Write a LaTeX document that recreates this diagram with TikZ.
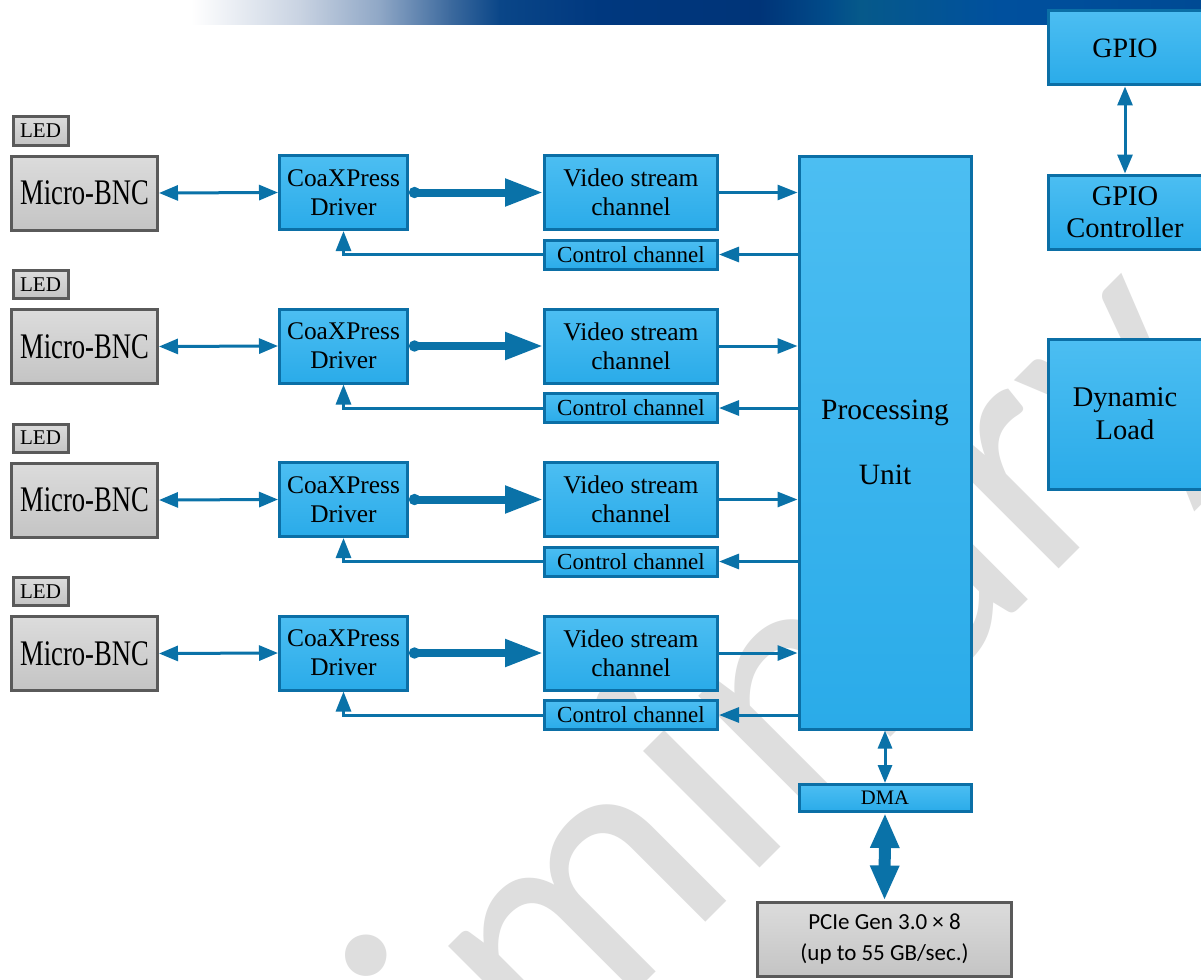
\documentclass[tikz,border=0pt]{standalone}
\usepackage{fontspec}
\usepackage{graphicx}
\setmainfont{Liberation Serif}
\newfontfamily\calib{Carlito}
\usetikzlibrary{arrows.meta}
\definecolor{bdr}{HTML}{0B6FA6}
\definecolor{blueT}{HTML}{4CBEF2}
\definecolor{blueB}{HTML}{2AABE9}
\definecolor{grayT}{HTML}{DCDCDC}
\definecolor{grayB}{HTML}{C4C4C4}
\definecolor{grayD}{HTML}{5A5A5A}
\definecolor{arr}{HTML}{0A72A8}
\definecolor{wm}{HTML}{DEDEDE}
\definecolor{g1}{HTML}{C9D3E2}
\definecolor{g2}{HTML}{8FA7C6}
\definecolor{g3}{HTML}{3D6A9E}
\definecolor{g4}{HTML}{0A4688}
\definecolor{g5}{HTML}{00387F}
\definecolor{g6}{HTML}{003478}
\definecolor{g7}{HTML}{014C8A}
\definecolor{g8}{HTML}{06598A}
\definecolor{g9}{HTML}{00509E}
\definecolor{g10}{HTML}{004A94}
\begin{document}
\begin{tikzpicture}[x=1pt,y=-1pt,
  bbox/.style={draw=bdr,line width=3pt,top color=blueT,bottom color=blueB,inner sep=0pt,align=center,text=black},
  gbox/.style={draw=grayD,line width=3pt,top color=grayT,bottom color=grayB,inner sep=0pt,align=center,text=black},
  sz/.style 2 args={minimum width=#1pt,minimum height=#2pt},
  f/.style 2 args={font=\fontsize{#1}{#2}\selectfont},
  ar/.style={draw=arr,line width=3pt},
  a1/.style={ar,-{Triangle[length=20pt,width=15pt]}},
  a2/.style={ar,{Triangle[length=19pt,width=15pt]}-{Triangle[length=19pt,width=15pt]}},
  fat/.style={draw=arr,line width=8pt,{Circle[length=11pt,width=11pt]}-{Triangle[length=38pt,width=26pt]}},
  huge/.style={draw=arr,line width=12pt,{Triangle[length=35pt,width=27pt]}-{Triangle[length=35pt,width=27pt]}}
]
\clip (0,0) rectangle (1201,979);
\fill[white] (0,0) rectangle (1201,979);
% watermark
\node[rotate=45,anchor=base west,inner sep=0pt,text=wm,font={\calib\fontsize{345}{345}\selectfont}] (wmark) at (106,1522) {Preliminary};
% top bar
\shade[left color=white,right color=g1] (191,0) rectangle (300,25);
\shade[left color=g1,right color=g2] (299.5,0) rectangle (380,25);
\shade[left color=g2,right color=g3] (379.5,0) rectangle (450,25);
\shade[left color=g3,right color=g4] (449.5,0) rectangle (500,25);
\shade[left color=g4,right color=g5] (499.5,0) rectangle (600,25);
\shade[left color=g5,right color=g6] (599.5,0) rectangle (760,25);
\shade[left color=g6,right color=g7] (759.5,0) rectangle (830,25);
\shade[left color=g7,right color=g8] (829.5,0) rectangle (860,25);
\shade[left color=g8,right color=g9] (859.5,0) rectangle (1000,25);
\shade[left color=g9,right color=g10] (999.5,0) rectangle (1201,25);
% right column
\node[bbox,sz={154}{74},f={28}{32}] (gpio) at (1125,48) {GPIO};
\node[bbox,sz={154}{74},f={28.5}{32}] (gpioc) at (1125,212) {GPIO\\Controller};
\node[bbox,sz={154}{150},f={28.5}{33}] (dyn) at (1125,414) {Dynamic\\Load};
\draw[a2] (gpio.south) -- (gpioc.north);
% processing unit
\node[bbox,sz={172}{573},f={29.5}{65}] (pu) at (885,442.5) {Processing\\Unit};
\node[bbox,sz={172}{27},f={20.6}{22}] (dma) at (885,798) {DMA};
\node[gbox,sz={254}{74},font={\calib\fontsize{23}{31}\selectfont}] (pcie) at (884.5,939) {PCIe Gen 3.0 × 8\\(up to 55 GB/sec.)};
\draw[ar,{Triangle[length=18pt,width=14pt]}-{Triangle[length=18pt,width=14pt]}] (pu.south) -- (dma.north);
\draw[huge] (dma.south) -- (pcie.north);
% rows
\foreach \k in {0,1,2,3}{
  \pgfmathsetmacro\dy{153.5*\k}
  \node[gbox,sz={55}{28},f={21}{21}] (led\k) at (40.5,131+\dy) {LED};
  \node[gbox,sz={146}{74},f={36}{36}] (bnc\k) at (84.5,193+\dy) {\scalebox{0.74}[1]{Micro-BNC}};
  \node[bbox,sz={128}{74},f={25.4}{29}] (drv\k) at (343.5,192.5+\dy) {CoaXPress\\Driver};
  \node[bbox,sz={173}{74},f={25.5}{29}] (vid\k) at (631,192.5+\dy) {Video stream\\channel};
  \node[bbox,sz={173}{29},f={23}{24}] (ctl\k) at (631,254.5+\dy) {Control channel};
  \draw[a2] (bnc\k.east) -- (drv\k.west);
  \draw[fat] (drv\k.east) -- (vid\k.west);
  \draw[a1] (vid\k.east) -- (vid\k.east -| pu.west);
  \draw[a1] (ctl\k.east -| pu.west) -- (ctl\k.east);
  \draw[a1] (ctl\k.west) -| (drv\k.south);
}
\end{tikzpicture}
\end{document}
